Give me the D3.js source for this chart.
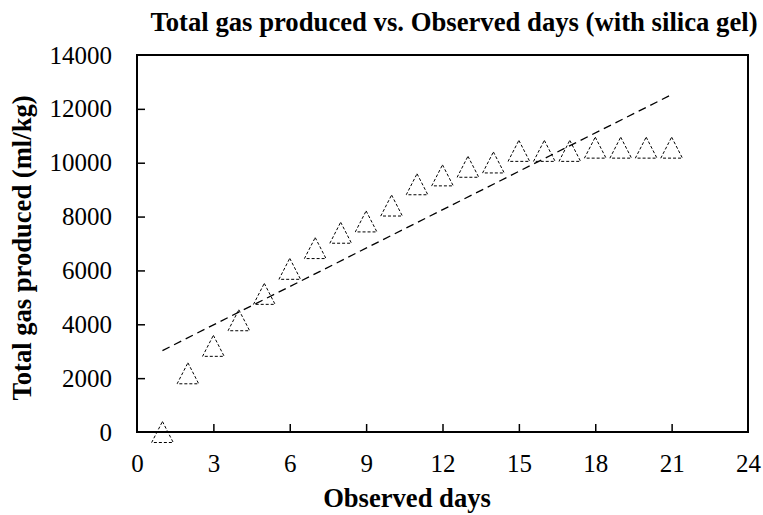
<!DOCTYPE html>
<html>
<head>
<meta charset="utf-8">
<script src="https://cdn.jsdelivr.net/npm/d3@7"></script>
<style>
  body { margin: 0; background: #fff; }
  svg { display: block; font-family: 'Liberation Serif', 'Times New Roman', serif; }
</style>
</head>
<body>
<div id="wrapper"></div>
<script>
/* DATA */
const days = [1, 2, 3, 4, 5, 6, 7, 8, 9, 10, 11, 12, 13, 14, 15, 16, 17, 18, 19, 20, 21];
const gasProduced = [0, 2180, 3200, 4150, 5130, 6060, 6830, 7400, 7820, 8410, 9200,
  9530, 9850, 10010, 10440, 10440, 10440, 10560, 10560, 10560, 10560];
const xTicks = [0, 3, 6, 9, 12, 15, 18, 21, 24];
const yTicks = [0, 2000, 4000, 6000, 8000, 10000, 12000, 14000];

const dataset = days.map((d, i) => ({ day: d, gas: gasProduced[i] }));

/* CHART DIMENSIONS */
const dimensions = {
  width: 763,
  height: 515,
  margin: { top: 55, right: 15, bottom: 83, left: 137 },
};
dimensions.boundedWidth = dimensions.width - dimensions.margin.left - dimensions.margin.right;
dimensions.boundedHeight = dimensions.height - dimensions.margin.top - dimensions.margin.bottom;

/* SCALES */
const xScale = d3.scaleLinear().domain([0, 24]).range([0, dimensions.boundedWidth]);
const yScale = d3.scaleLinear().domain([0, 14000]).range([dimensions.boundedHeight, 0]);

const wrapper = d3.select('#wrapper')
  .append('svg')
  .attr('width', dimensions.width)
  .attr('height', dimensions.height);

const bounds = wrapper.append('g')
  .attr('transform', `translate(${dimensions.margin.left},${dimensions.margin.top})`);

/* LINEAR TRENDLINE (least squares on the data) */
const meanX = d3.mean(days);
const meanY = d3.mean(gasProduced);
const slope = d3.sum(dataset, d => (d.day - meanX) * (d.gas - meanY)) /
  d3.sum(dataset, d => (d.day - meanX) ** 2);
const intercept = meanY - slope * meanX;
const trendX = d3.extent(days);

bounds.append('line')
  .attr('x1', xScale(trendX[0]))
  .attr('y1', yScale(intercept + slope * trendX[0]))
  .attr('x2', xScale(trendX[1]))
  .attr('y2', yScale(intercept + slope * trendX[1]))
  .attr('stroke', '#000')
  .attr('stroke-width', 1.3)
  .attr('stroke-dasharray', '8,5');

/* MARKERS */
const tri = 'M0,-10.5L10.8,10.5L-10.8,10.5Z';
bounds.append('g')
  .selectAll('path')
  .data(dataset)
  .join('path')
  .attr('transform', d => `translate(${xScale(d.day)},${yScale(d.gas)})`)
  .attr('d', tri)
  .attr('fill', 'none')
  .attr('stroke', '#000')
  .attr('stroke-width', 1)
  .attr('stroke-dasharray', '3,2');

/* AXES */
const fmt = d3.format('d');
const xAxis = bounds.append('g')
  .attr('transform', `translate(0,${dimensions.boundedHeight})`)
  .call(d3.axisBottom(xScale).tickValues(xTicks).tickFormat(fmt)
    .tickSizeInner(-8).tickSizeOuter(0).tickPadding(22));

const yAxis = bounds.append('g')
  .call(d3.axisLeft(yScale).tickValues(yTicks).tickFormat(fmt)
    .tickSizeInner(-8).tickSizeOuter(0).tickPadding(25));

[xAxis, yAxis].forEach(ax => {
  ax.select('.domain').remove();
  ax.selectAll('.tick line').attr('stroke', '#000').attr('stroke-width', 1.5);
  ax.selectAll('.tick text')
    .attr('fill', '#000')
    .style('font-size', '25px')
    .style('font-family', "'Liberation Serif', serif");
});
xAxis.selectAll('.tick line').filter(d => d === 0 || d === 24).remove();
yAxis.selectAll('.tick line').filter(d => d === 0 || d === 14000).remove();

// plot frame
bounds.append('rect')
  .attr('width', dimensions.boundedWidth)
  .attr('height', dimensions.boundedHeight)
  .attr('fill', 'none')
  .attr('stroke', '#000')
  .attr('stroke-width', 2);

/* LABELS */
wrapper.append('text')
  .text('Total gas produced vs. Observed days (with silica gel)')
  .attr('x', 454)
  .attr('y', 31)
  .attr('text-anchor', 'middle')
  .attr('font-weight', 'bold')
  .style('font-size', '26.7px');

wrapper.append('text')
  .text('Observed days')
  .attr('x', 407)
  .attr('y', 507)
  .attr('text-anchor', 'middle')
  .attr('font-weight', 'bold')
  .style('font-size', '26.6px');

wrapper.append('text')
  .text('Total gas produced (ml/kg)')
  .attr('transform', 'translate(31,248) rotate(-90)')
  .attr('text-anchor', 'middle')
  .attr('font-weight', 'bold')
  .style('font-size', '26.6px');
</script>
</body>
</html>
